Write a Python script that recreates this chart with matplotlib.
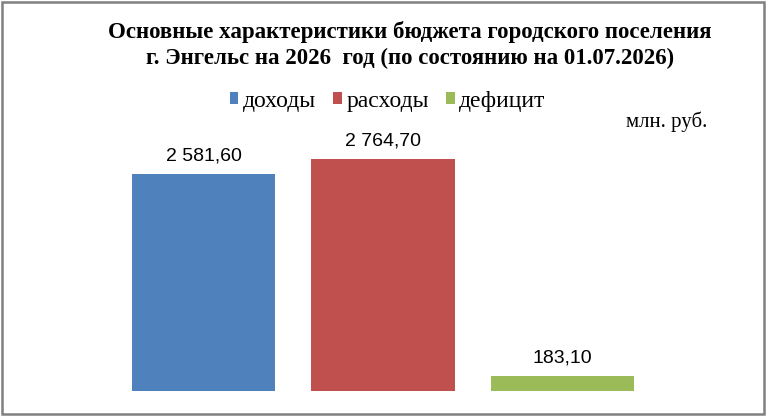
import matplotlib.pyplot as plt
from matplotlib.patches import Rectangle

categories = ['доходы', 'расходы', 'дефицит']
values = [2581.60, 2764.70, 183.10]
labels = ['2 581,60', '2 764,70', '183,10']
colors = ['#4F81BD', '#C0504D', '#9BBB59']

fig = plt.figure(figsize=(7.66, 4.16), dpi=100)
ax = fig.add_axes([114 / 766, 25 / 416, 538 / 766, 252 / 416])

bars = ax.bar(range(len(values)), values, width=0.8, color=colors, label=categories)
for bar, lab in zip(bars, labels):
    ax.text(bar.get_x() + bar.get_width() / 2, bar.get_height() + 110, lab,
            ha='center', va='bottom', fontsize=14, family='Liberation Sans')

ax.set_xlim(-0.5, 2.5)
ax.set_ylim(0, 3000)
ax.axis('off')

fig.text(0.535, 0.891, 'Основные характеристики бюджета городского поселения\n'
         'г. Энгельс на 2026  год (по состоянию на 01.07.2026)',
         ha='center', va='center', fontsize=16.5, fontweight='bold',
         family='Liberation Serif', linespacing=1.3)

leg = fig.legend(bars, categories, loc='center', bbox_to_anchor=(0.506, 0.757),
                 ncol=3, frameon=False, handlelength=0.38, handleheight=0.38,
                 handletextpad=0.2, columnspacing=0.7,
                 prop={'family': 'Liberation Serif', 'size': 17})

fig.text(0.870, 0.707, 'млн. руб.', ha='center', va='center',
         fontsize=15, family='Liberation Serif')

fig.add_artist(Rectangle((0.002, 0.004), 0.996, 0.992, transform=fig.transFigure,
                         fill=False, edgecolor='#808080', linewidth=1.8))

fig.savefig('out.png', dpi=100)
